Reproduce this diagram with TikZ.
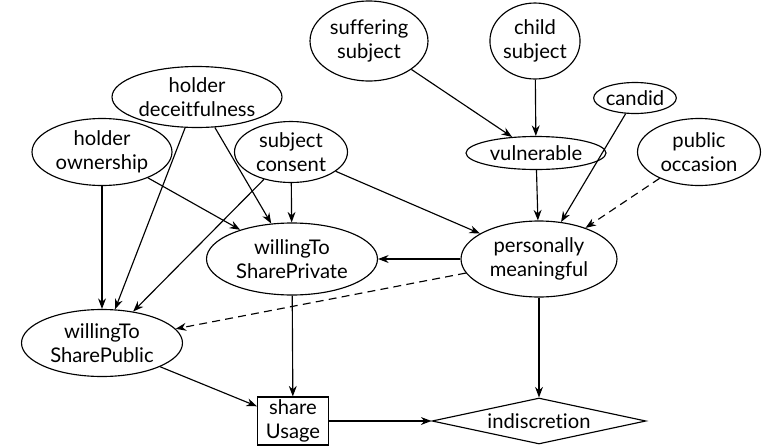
\documentclass[tikz,border=0pt]{standalone}
\usepackage{fontspec}
\setmainfont{Lato}[Ligatures={NoCommon,NoRare,NoDiscretionary}]
\usetikzlibrary{shapes.geometric,arrows.meta}

\begin{document}
\begin{tikzpicture}[x=0.02cm,y=-0.02cm,
  >={Stealth[length=6pt,width=4.5pt]},
  every node/.style={font=\fontsize{11.5}{13.5}\selectfont,align=center,inner sep=0pt},
  chance/.style={draw,ellipse,line width=0.65pt},
  utility/.style={draw,diamond,aspect=4.6,line width=0.65pt},
  decision/.style={draw,rectangle,line width=0.65pt},
  link/.style={->,line width=0.65pt},
  weaklink/.style={link,dash pattern=on 4.5pt off 3pt}]

\useasboundingbox (0,0) rectangle (762,447);

% chance nodes:
\node[chance,minimum width=2.36cm,minimum height=1.6cm] (susubj) at (369,41) {suffering\\subject};
\node[chance,minimum width=1.8cm,minimum height=1.52cm] (chsubj) at (535,41) {child\\subject};
\node[chance,minimum width=1.48cm,minimum height=0.62cm] (candid) at (635,98) {candid};
\node[chance,minimum width=2.8cm,minimum height=0.66cm] (vuln) at (536,153) {vulnerable};
\node[chance,minimum width=2.46cm,minimum height=1.34cm] (pubocc) at (699,152) {public\\occasion};
\node[chance,minimum width=3.4cm,minimum height=1.22cm] (hdeceit) at (197,97) {holder\\deceitfulness};
\node[chance,minimum width=2.8cm,minimum height=1.34cm] (hown) at (102,152) {holder\\ownership};
\node[chance,minimum width=2.26cm,minimum height=1.22cm] (sconsent) at (291,152) {subject\\consent};
\node[chance,minimum width=3.42cm,minimum height=1.44cm] (wtsPriv) at (292,259) {willingTo\\SharePrivate};
\node[chance,minimum width=3.12cm,minimum height=1.52cm] (pmean) at (539,259) {personally\\meaningful};
\node[chance,minimum width=3.22cm,minimum height=1.34cm] (wtsPub) at (102,343) {willingTo\\SharePublic};

% decision and utility:
\node[decision,minimum width=1.42cm,minimum height=0.96cm] (shUsage) at (293,421) {share\\Usage};
\node[utility,minimum width=4.28cm,minimum height=0.92cm] (indisc) at (539,421) {indiscretion};

% links:
\draw[link] (susubj) -- (vuln);
\draw[link] (chsubj) -- (vuln);
\draw[link] (vuln) -- (pmean);
\draw[link] (candid) -- (pmean);
\draw[weaklink] (pubocc) -- (pmean);
\draw[link] (sconsent) -- (pmean);
\draw[link] (pmean) -- (wtsPriv);
\draw[weaklink] (pmean) -- (wtsPub);
\draw[link] (pmean) -- (indisc);
\draw[link] (hdeceit) -- (wtsPub);
\draw[link] (hdeceit) -- (wtsPriv);
\draw[link] (hown) -- (wtsPriv);
\draw[link] (hown) -- (wtsPub);
\draw[link] (sconsent) -- (wtsPriv);
\draw[link] (sconsent) -- (wtsPub);
\draw[link] (wtsPriv) -- (shUsage);
\draw[link] (wtsPub) -- (shUsage);
\draw[link] (shUsage) -- (indisc);

\end{tikzpicture}
\end{document}
